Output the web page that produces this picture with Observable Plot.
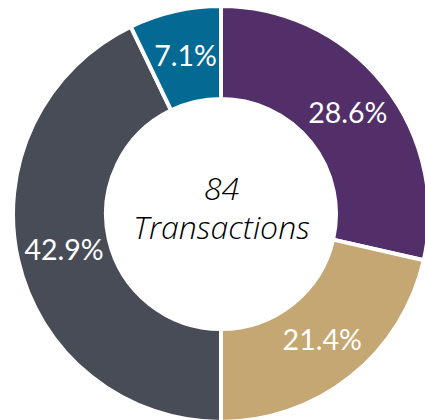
<!DOCTYPE html>
<html>
<head>
<meta charset="utf-8">
<script src="https://cdn.jsdelivr.net/npm/d3@7"></script>
<script src="https://cdn.jsdelivr.net/npm/@observablehq/plot@0.6"></script>
<style>
  html, body { margin: 0; padding: 0; background: #fff; }
  #chart { width: 425px; height: 420px; overflow: hidden; }
</style>
</head>
<body>
<div id="chart"></div>
<script>
const categories = ["A", "B", "C", "D"];
const counts = [24, 18, 36, 6];
const labels = ["28.6%", "21.4%", "42.9%", "7.1%"];
const colors = ["#522F68", "#C4A772", "#484C57", "#046A93"];
const centerLines = ["84", "Transactions"];

const W = 425, H = 420;
const cxPx = 221, cyPx = 214, R = 208, innerFrac = 115 / 208;

const data = categories.map((c, i) => ({ category: c, count: counts[i], label: labels[i], color: colors[i] }));
const pie = d3.pie().sort(null).value(d => d.count)(data);
const midR = (1 + innerFrac) / 2;
const labelData = pie.map(p => {
  const a = (p.startAngle + p.endAngle) / 2;
  return { x: midR * Math.sin(a), y: midR * Math.cos(a), label: p.data.label };
});
const centerData = [{ x: 0, y: 0.12, t: centerLines[0] }, { x: 0, y: -0.07, t: centerLines[1] }];

const arcMark = (index, scales, values, dimensions) => {
  const cx = scales.x(0), cy = scales.y(0);
  const r = scales.x(1) - scales.x(0);
  const arc = d3.arc().innerRadius(r * innerFrac).outerRadius(r);
  const g = d3.create("svg:g").attr("transform", `translate(${cx},${cy})`);
  g.selectAll("path").data(pie).join("path")
    .attr("d", arc)
    .attr("fill", d => d.data.color)
    .attr("stroke", "#fff")
    .attr("stroke-width", 4)
    .attr("stroke-linejoin", "round");
  return g.node();
};

const plot = Plot.plot({
  width: W, height: H,
  margin: 0,
  x: { domain: [-cxPx / R, (W - cxPx) / R], range: [0, W], axis: null },
  y: { domain: [cyPx / R, -(H - cyPx) / R], range: [0, H], axis: null },
  style: { background: "#fff" },
  marks: [
    arcMark,
    Plot.text(labelData, { x: "x", y: "y", text: "label", fill: "#fff", fontSize: 28.5, fontFamily: "Lato", fontWeight: 400 }),
    Plot.text(centerData, { x: "x", y: "y", text: "t", fill: "#000", fontSize: 32, fontFamily: "Open Sans", fontWeight: 300, fontStyle: "italic" })
  ]
});
document.getElementById("chart").append(plot);
</script>
</body>
</html>
